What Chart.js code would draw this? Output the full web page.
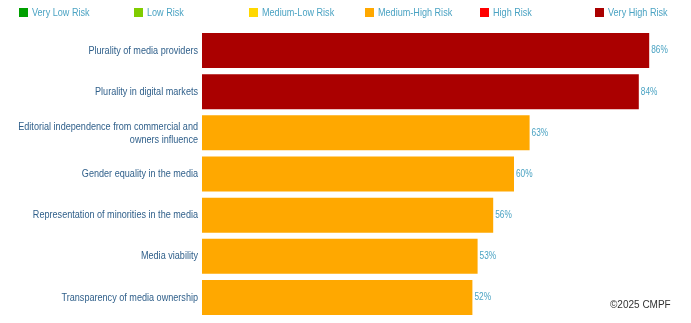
<!DOCTYPE html>
<html lang="en">
<head>
    <meta charset="UTF-8">
    <title>Media Pluralism Monitor - Risk by indicator</title>
    <script src="https://cdn.jsdelivr.net/npm/chart.js"></script>
    <style>
        body {
            margin: 0;
            background: #fff;
            font-family: "Liberation Sans", Arial, sans-serif;
        }
        .wrap {
            position: relative;
            width: 691px;
            height: 323px;
        }
        .legend {
            position: absolute;
            top: 4px;
            left: 0;
            width: 691px;
            display: flex;
        }
        .legend span {
            width: 115.2px;
            box-sizing: border-box;
            padding-left: 19px;
            line-height: 14px;
            white-space: nowrap;
        }
        .legend i {
            display: inline-block;
            width: 9px;
            height: 9px;
            margin-right: 4px;
            vertical-align: -1px;
        }
        .legend b {
            display: inline-block;
            font-weight: normal;
            font-size: 11.5px;
            color: #4ba3c3;
            transform: scaleX(0.79);
            transform-origin: left center;
        }
        .copy {
            position: absolute;
            left: 610px;
            top: 299px;
            font-size: 10px;
            color: #333;
        }
    </style>
</head>
<body>
    <div class="wrap">
        <canvas id="riskChart" width="691" height="323"></canvas>
        <div class="legend" id="legend"></div>
        <div class="copy">©2025 CMPF</div>
    </div>

    <script>
        let riskLevels = ['Very Low Risk', 'Low Risk', 'Medium-Low Risk', 'Medium-High Risk', 'High Risk', 'Very High Risk'];
        let riskColors = ['#00a000', '#80cc00', '#ffd800', '#ffa800', '#ff0000', '#aa0000'];

        let indicators = [
            'Plurality of media providers',
            'Plurality in digital markets',
            ['Editorial independence from commercial and', 'owners influence'],
            'Gender equality in the media',
            'Representation of minorities in the media',
            'Media viability',
            'Transparency of media ownership'
        ];
        let scores = [86, 84, 63, 60, 56, 53, 52];
        let levels = [5, 5, 3, 3, 3, 3, 3];

        // the source uses a narrow face; squeeze the regular one to get the same width
        let squeeze = 0.79;
        let fontFamily = '"Liberation Sans", Arial, sans-serif';

        // legend row across the top
        let legend = document.getElementById('legend');
        riskLevels.forEach((name, i) => {
            let item = document.createElement('span');
            item.innerHTML = '<i style="background:' + riskColors[i] + '"></i><b>' + name + '</b>';
            legend.appendChild(item);
        });

        function squeezedText(c, text, x, y) {
            c.save();
            c.translate(x, y);
            c.scale(squeeze, 1);
            c.fillText(text, 0, 0);
            c.restore();
        }

        // category names left of the bars
        let categoryLabels = {
            id: 'categoryLabels',
            afterDraw(chart) {
                let c = chart.ctx;
                let yScale = chart.scales.y;
                c.save();
                c.font = '11.5px ' + fontFamily;
                c.fillStyle = '#2f5f8a';
                c.textAlign = 'right';
                c.textBaseline = 'middle';
                indicators.forEach((label, i) => {
                    let lines = Array.isArray(label) ? label : [label];
                    let y = yScale.getPixelForTick(i) - (lines.length - 1) * 6.5;
                    lines.forEach((line, j) => squeezedText(c, line, 198, y + j * 13));
                });
                c.restore();
            }
        };

        // percentage after each bar
        let valueLabels = {
            id: 'valueLabels',
            afterDatasetsDraw(chart) {
                let c = chart.ctx;
                let meta = chart.getDatasetMeta(0);
                c.save();
                c.font = '10.5px ' + fontFamily;
                c.fillStyle = '#4ba3c3';
                c.textBaseline = 'middle';
                meta.data.forEach((bar, i) => {
                    squeezedText(c, scores[i] + '%', bar.x + 2, bar.y);
                });
                c.restore();
            }
        };

        let ctx = document.getElementById('riskChart').getContext('2d');
        let chart = new Chart(ctx, {
            type: 'bar',
            data: {
                labels: indicators,
                datasets: [{
                    data: scores,
                    backgroundColor: levels.map(l => riskColors[l]),
                    borderWidth: 0,
                    barPercentage: 0.85,
                    categoryPercentage: 1
                }]
            },
            options: {
                indexAxis: 'y',
                responsive: false,
                animation: false,
                layout: { padding: { top: 30, bottom: 5, right: 21, left: 0 } },
                plugins: {
                    legend: { display: false },
                    tooltip: { enabled: false }
                },
                scales: {
                    x: {
                        display: false,
                        min: 0,
                        max: 90
                    },
                    y: {
                        grid: { display: false, drawTicks: false },
                        border: { display: false },
                        ticks: { display: false },
                        afterFit(scale) {
                            scale.width = 202;
                        }
                    }
                }
            },
            plugins: [categoryLabels, valueLabels]
        });
    </script>
</body>
</html>
